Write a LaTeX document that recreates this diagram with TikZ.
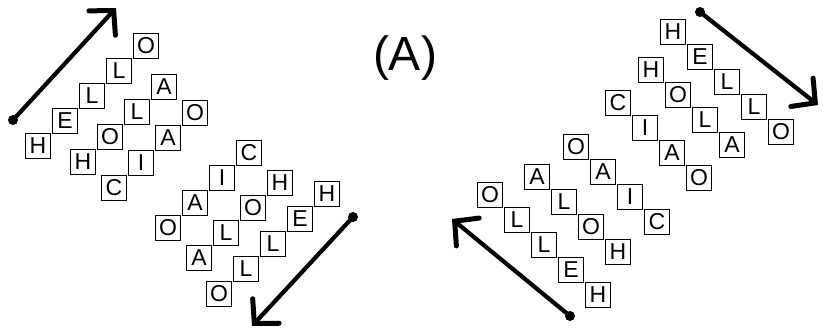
\documentclass[tikz,border=0pt]{standalone}
\usepackage{fontspec}
\setmainfont{Liberation Sans}
\usetikzlibrary{arrows.meta}
\newcommand\wordrow[5]{%
  \foreach \c [count=\i from 0] in {#5}
    \node[letterbox] (#1-\i) at ({#2+27*\i},{#3+#4*25*\i}) {\c};}
\begin{document}
\begin{tikzpicture}[x=1pt,y=-1pt,
  letterbox/.style={draw, line width=1.5pt, minimum size=25pt, inner sep=0pt,
    font=\fontsize{23}{23}\selectfont},
  bigarrow/.style={line width=4.2pt, line cap=round,
    -{Straight Barb[length=17pt,width=36pt,line width=5pt,line cap=round]}},
  startdot/.style={circle, fill, inner sep=0pt, minimum size=10pt}]
\useasboundingbox (0,0) rectangle (823,332);
\fill[white] (0,0) rectangle (823,332);
% title
\node[font=\fontsize{48}{48}\selectfont] (title) at (405,58) {(A)};
% top-left group (up-right)
\wordrow{tlhello}{38}{146}{-1}{H,E,L,L,O}
\wordrow{tlhola}{83}{162}{-1}{H,O,L,A}
\wordrow{tlciao}{114}{188}{-1}{C,I,A,O}
% bottom-middle group (up-right, reversed)
\wordrow{bmoaic}{168}{228}{-1}{O,A,I,C}
\wordrow{bmaloh}{199}{258}{-1}{A,L,O,H}
\wordrow{bmolleh}{219}{294}{-1}{O,L,L,E,H}
% bottom-right group (down-right, reversed)
\wordrow{brolleh}{490}{195}{1}{O,L,L,E,H}
\wordrow{braloh}{537}{177}{1}{A,L,O,H}
\wordrow{broaic}{576}{147}{1}{O,A,I,C}
% top-right group (down-right)
\wordrow{trhello}{673}{32}{1}{H,E,L,L,O}
\wordrow{trhola}{651}{70}{1}{H,O,L,A}
\wordrow{trciao}{618}{103}{1}{C,I,A,O}
% arrows
\node[startdot] (tlstart) at (13,120) {};
\coordinate (tlend) at (116,8);
\draw[bigarrow] (tlstart.center) -- (tlend);
\node[startdot] (bmstart) at (353,217) {};
\coordinate (bmend) at (252,326);
\draw[bigarrow] (bmstart.center) -- (bmend);
\node[startdot] (brstart) at (570,316) {};
\coordinate (brend) at (452,219);
\draw[bigarrow] (brstart.center) -- (brend);
\node[startdot] (trstart) at (700,12) {};
\coordinate (trend) at (818,105);
\draw[bigarrow] (trstart.center) -- (trend);
\end{tikzpicture}
\end{document}
